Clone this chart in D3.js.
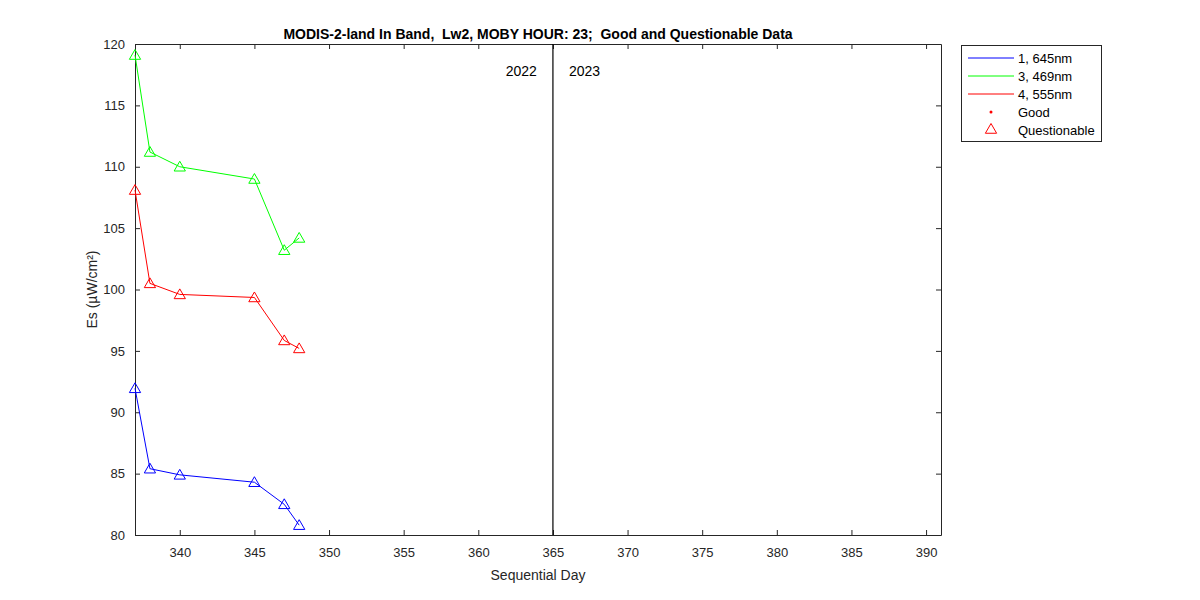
<!DOCTYPE html>
<html><head><meta charset="utf-8">
<script src="https://cdn.jsdelivr.net/npm/d3@7"></script>
<style>body{margin:0;background:#fff;} text{font-family:"Liberation Sans",Arial,sans-serif;}</style>
</head><body><svg id="c" width="1200" height="600"></svg>
<script>
const days = [337, 338, 340, 345, 347, 348];
const green469 = [119.1, 111.2, 110.0, 109.0, 103.2, 104.2];
const red555 = [108.1, 100.5, 99.6, 99.35, 95.85, 95.2];
const blue645 = [91.95, 85.4, 84.9, 84.3, 82.5, 80.8];
const xTicks = [340,345,350,355,360,365,370,375,380,385,390];
const yTicks = [80,85,90,95,100,105,110,115,120];
const seriesNames = ["1, 645nm","3, 469nm","4, 555nm"];
const seriesColors = ["#0000ff","#00ff00","#ff0000"];
const yearLine = 365;

const svg = d3.select("#c");
const L=135, R=941, T=44, B=535;
const x = d3.scaleLinear().domain([337,391]).range([L,R]);
const y = d3.scaleLinear().domain([80,120]).range([B,T]);
const axCol="#262626";

svg.append("rect").attr("width",1200).attr("height",600).attr("fill","#fff");

const gx = svg.append("g").attr("transform",`translate(0,${B})`)
 .call(d3.axisBottom(x).tickValues(xTicks).tickSizeInner(-5).tickSizeOuter(0).tickPadding(13));
const gxt = svg.append("g").attr("transform",`translate(0,${T})`)
 .call(d3.axisTop(x).tickValues(xTicks).tickSizeInner(-5).tickSizeOuter(0).tickFormat(""));
const gy = svg.append("g").attr("transform",`translate(${L},0)`)
 .call(d3.axisLeft(y).tickValues(yTicks).tickSizeInner(-5).tickSizeOuter(0).tickPadding(10));
const gyr = svg.append("g").attr("transform",`translate(${R},0)`)
 .call(d3.axisRight(y).tickValues(yTicks).tickSizeInner(-5).tickSizeOuter(0).tickFormat(""));
[gx,gxt,gy,gyr].forEach(g=>{
  g.selectAll("path").attr("stroke",axCol);
  g.selectAll("line").attr("stroke",axCol);
  g.selectAll("text").attr("fill",axCol).attr("font-size",13).attr("font-family","Liberation Sans, Arial, sans-serif");
});

// year divider
svg.append("line").attr("x1",x(yearLine)).attr("x2",x(yearLine)).attr("y1",T).attr("y2",B).attr("stroke","#000").attr("stroke-width",1.2);
svg.append("text").attr("x",x(yearLine)-16).attr("y",76).attr("text-anchor","end").attr("font-size",14).text("2022");
svg.append("text").attr("x",x(yearLine)+16).attr("y",76).attr("text-anchor","start").attr("font-size",14).text("2023");

const line = d3.line().x((d,i)=>x(days[i])).y(d=>y(d));
const tri = d3.symbol().type(d3.symbolTriangle).size(55);
[[blue645,"#0000ff"],[green469,"#00ff00"],[red555,"#ff0000"]].forEach(([vals,col])=>{
  svg.append("path").attr("d",line(vals)).attr("fill","none").attr("stroke",col).attr("stroke-width",1);
  svg.selectAll(null).data(vals).enter().append("path").attr("d",tri)
   .attr("transform",(d,i)=>`translate(${x(days[i])},${y(d)+1})`)
   .attr("fill","none").attr("stroke",col).attr("stroke-width",1);
});

svg.append("text").attr("x",538).attr("y",39).attr("text-anchor","middle").attr("font-size",14).attr("font-weight","bold").attr("fill","#000")
 .text("MODIS-2-land In Band,  Lw2, MOBY HOUR: 23;  Good and Questionable Data").attr("xml:space","preserve").style("white-space","pre");
svg.append("text").attr("x",538).attr("y",580).attr("text-anchor","middle").attr("font-size",14).attr("fill",axCol).text("Sequential Day");
svg.append("text").attr("transform",`translate(97,${(T+B)/2}) rotate(-90)`).attr("text-anchor","middle").attr("font-size",14).attr("fill",axCol).text("Es (µW/cm²)");

// legend
const lg = svg.append("g");
lg.append("rect").attr("x",961.5).attr("y",45.5).attr("width",140).attr("height",96).attr("fill","#fff").attr("stroke",axCol).attr("stroke-width",1);
const ly = [58,76,94,112,130];
seriesNames.forEach((n,i)=>{
  lg.append("line").attr("x1",968).attr("x2",1014).attr("y1",ly[i]).attr("y2",ly[i]).attr("stroke",seriesColors[i]).attr("stroke-width",1);
  lg.append("text").attr("x",1018).attr("y",ly[i]+5).attr("font-size",13).attr("fill","#000").text(n);
});
lg.append("circle").attr("cx",991).attr("cy",ly[3]).attr("r",1.5).attr("fill","#ff0000");
lg.append("text").attr("x",1018).attr("y",ly[3]+5).attr("font-size",13).attr("fill","#000").text("Good");
lg.append("path").attr("d",tri).attr("transform",`translate(991,${ly[4]})`).attr("fill","none").attr("stroke","#ff0000");
lg.append("text").attr("x",1018).attr("y",ly[4]+5).attr("font-size",13).attr("fill","#000").text("Questionable");
</script></body></html>
